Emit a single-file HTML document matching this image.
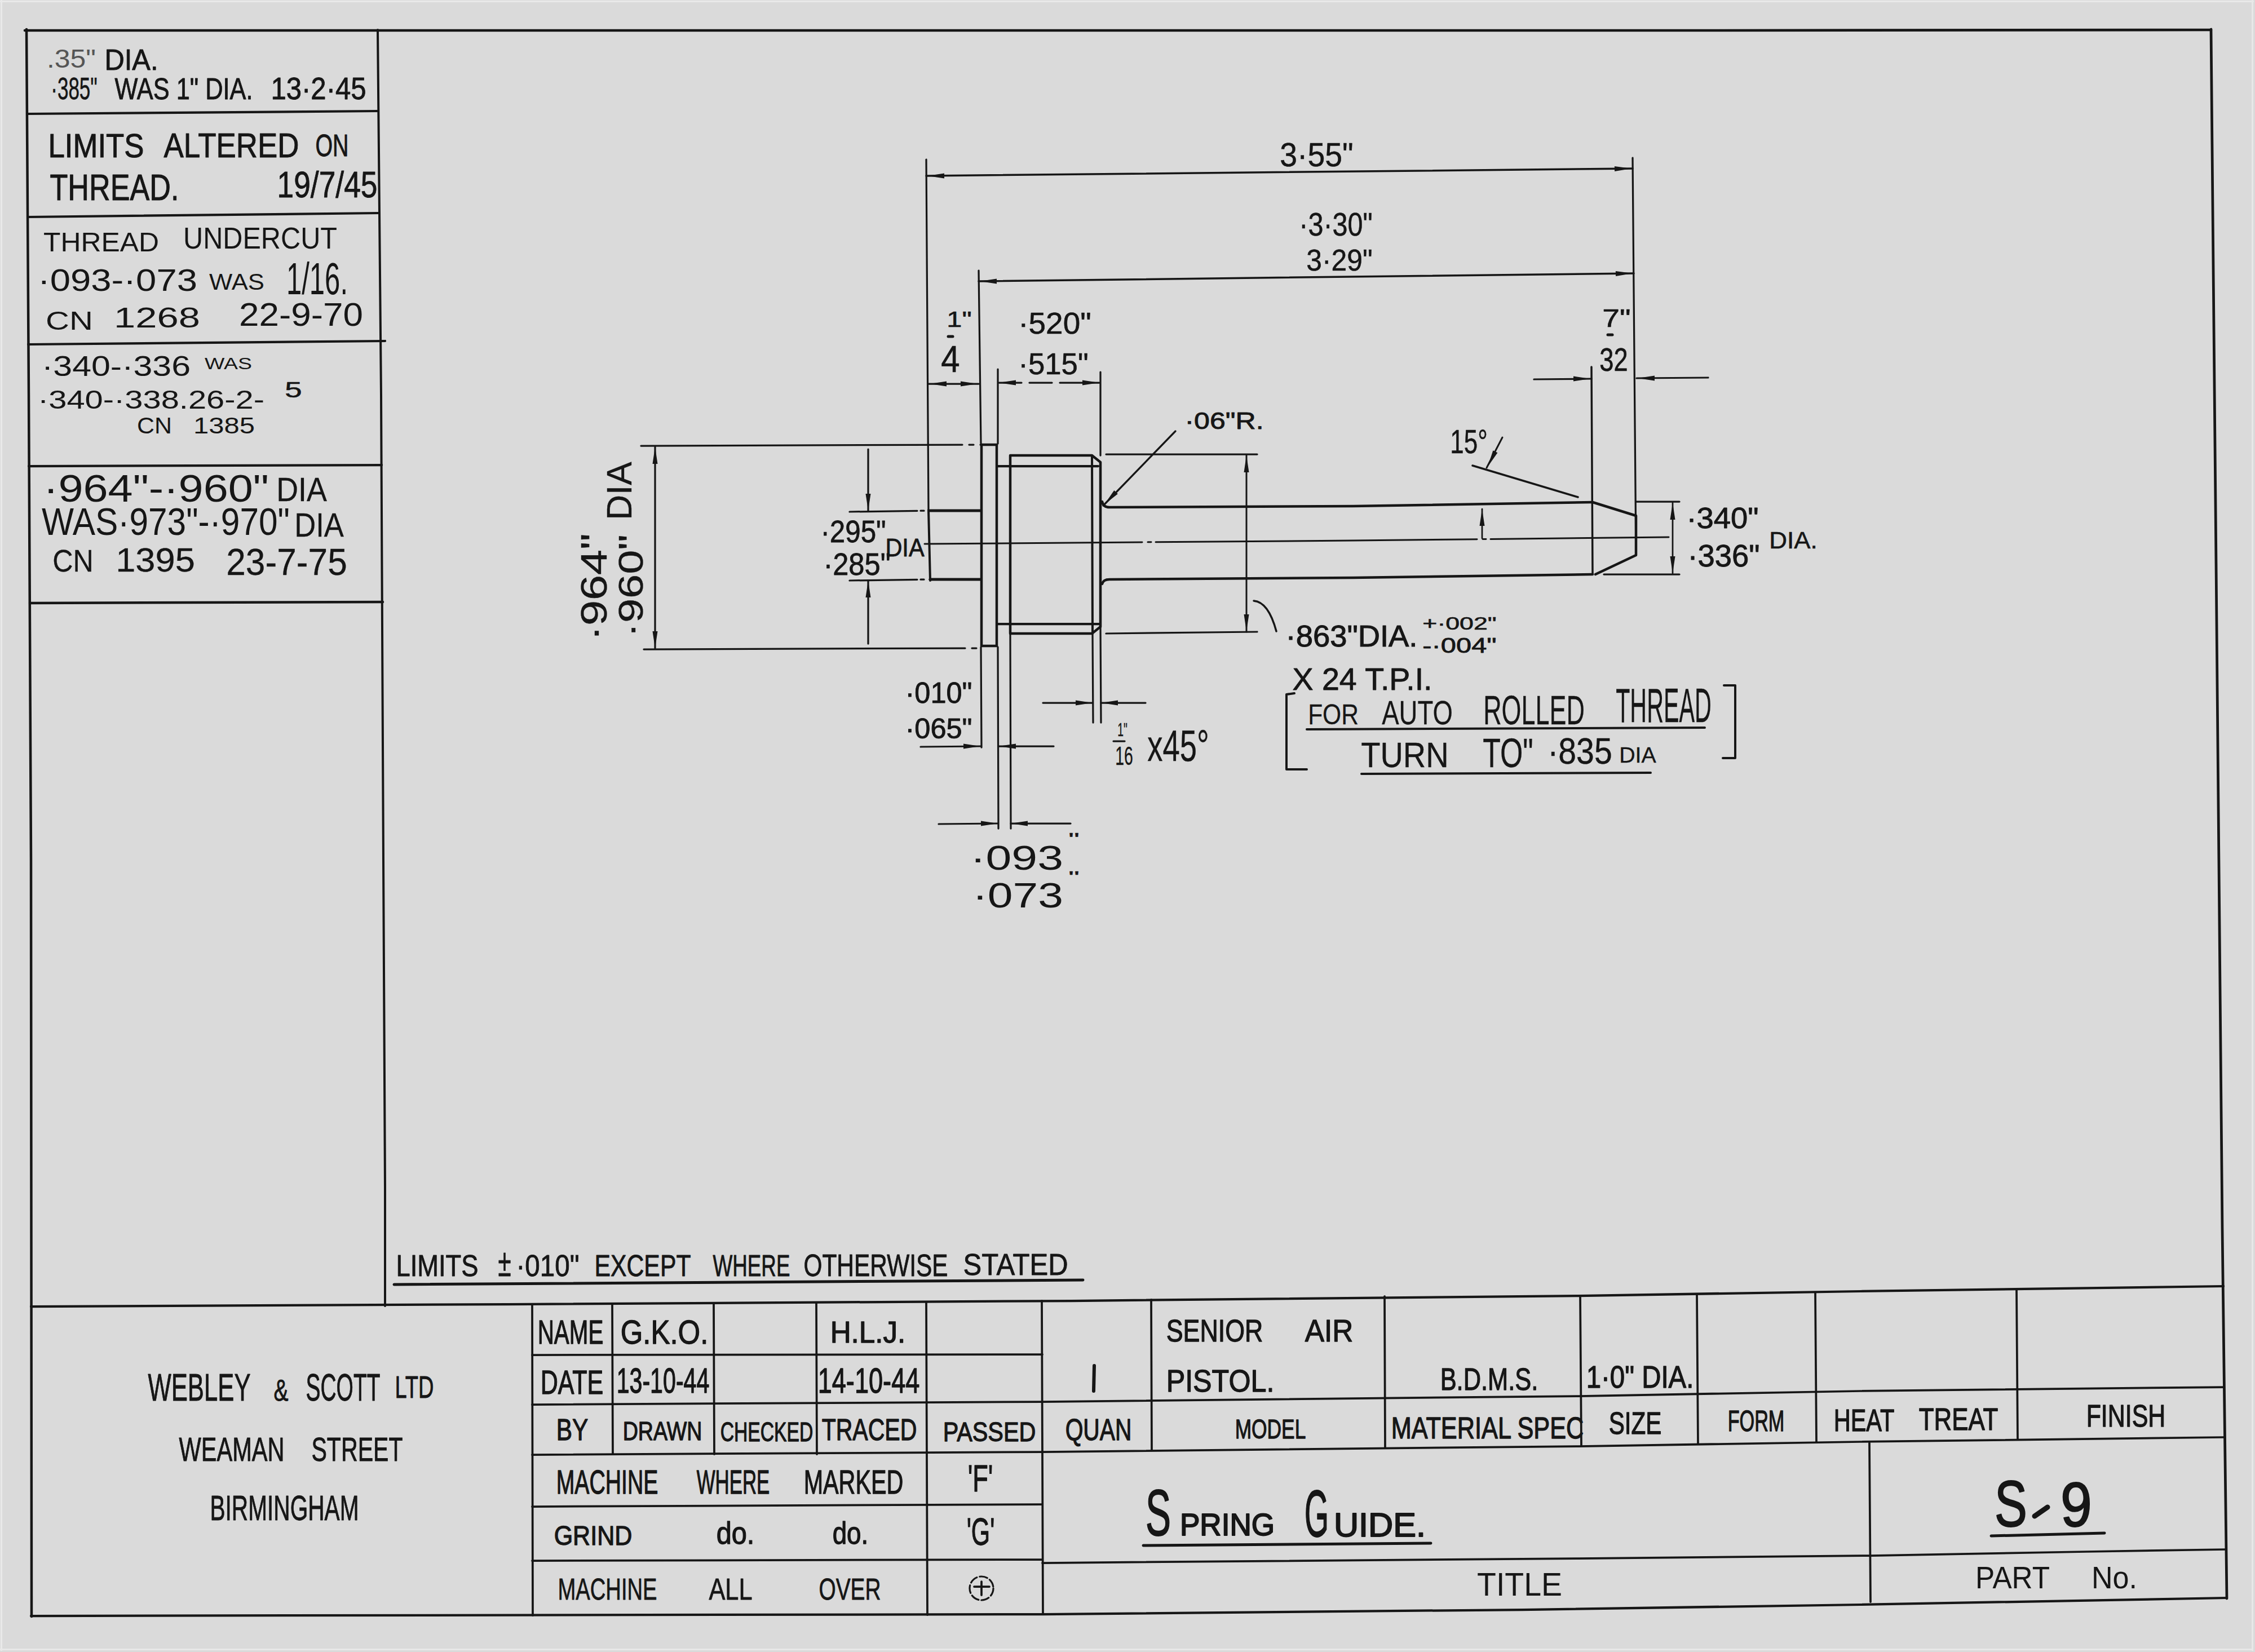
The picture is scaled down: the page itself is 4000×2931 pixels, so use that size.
<!DOCTYPE html>
<html><head><meta charset="utf-8"><title>Spring Guide S-9</title>
<style>
html,body{margin:0;padding:0;background:#dadada;}
body{width:4000px;height:2931px;overflow:hidden;}
svg{display:block;}
text{font-family:"Liberation Sans",sans-serif;fill:#161616;}
</style></head>
<body>
<svg width="4000" height="2931" viewBox="0 0 4000 2931">
<rect x="0" y="0" width="4000" height="2931" fill="#dadada"/>
<rect x="0" y="1" width="3998" height="3" fill="#e9e9e9"/>
<rect x="1" y="0" width="3" height="2929" fill="#e9e9e9"/>
<rect x="3994" y="0" width="3" height="2929" fill="#e8e8e8"/>
<rect x="0" y="2925" width="3997" height="3" fill="#e8e8e8"/>
<g fill="none" stroke="#161616" stroke-linecap="round" stroke-linejoin="round">
<path d="M44 54 L1500 54 L3000 54 L3922 53" stroke-width="4.6"/>
<path d="M47 52 L51 700 L55 1526 L56 2868" stroke-width="4.5"/>
<path d="M3922 52 L3931 1000 L3942 2180 L3950 2836" stroke-width="4.75"/>
<path d="M55 2867 L1850 2864 L2700 2856 L3300 2847 L3950 2835" stroke-width="4.25"/>
<path d="M670 53 L676 700 L680 1526 L683 2105 L683 2317" stroke-width="4"/>
<path d="M48 202 L670 197" stroke-width="4.25"/>
<path d="M49 385 L672 378" stroke-width="4.25"/>
<path d="M50 611 L683 605" stroke-width="4.25"/>
<path d="M51 827 L677 825" stroke-width="4.25"/>
<path d="M53 1070 L679 1068" stroke-width="4.5"/>
<path d="M55 2318 L900 2314 L1900 2308 L2800 2299 L3300 2291 L3944 2282" stroke-width="4.25"/>
<path d="M699 2279 L1921 2271" stroke-width="5"/>
<path d="M944 2315 L945 2866" stroke-width="3.75"/>
<path d="M1086 2314 L1087 2580" stroke-width="3.75"/>
<path d="M1266 2313 L1267 2580" stroke-width="3.75"/>
<path d="M1448 2312 L1449 2580" stroke-width="3.75"/>
<path d="M1643 2311 L1645 2865" stroke-width="3.75"/>
<path d="M1848 2308 L1850 2864" stroke-width="3.75"/>
<path d="M2042 2306 L2043 2572" stroke-width="3.75"/>
<path d="M2456 2300 L2457 2568" stroke-width="3.75"/>
<path d="M2803 2299 L2805 2564" stroke-width="3.75"/>
<path d="M3010 2296 L3012 2561" stroke-width="3.75"/>
<path d="M3220 2293 L3222 2558" stroke-width="3.75"/>
<path d="M3577 2287 L3579 2553" stroke-width="3.75"/>
<path d="M3316 2560 L3318 2842" stroke-width="3.75"/>
<path d="M944 2404 L1849 2403" stroke-width="3.75"/>
<path d="M944 2492 L1849 2487 L2800 2477 L3300 2468 L3944 2461" stroke-width="3.75"/>
<path d="M944 2581 L1849 2576 L2800 2566 L3300 2558 L3944 2550" stroke-width="3.75"/>
<path d="M944 2673 L1849 2669" stroke-width="3.75"/>
<path d="M944 2769 L1849 2767" stroke-width="3.75"/>
<path d="M1849 2773 L2800 2765 L3318 2760 L3700 2753 L3948 2749" stroke-width="3.75"/>
<path d="M2028 2742 L2538 2738" stroke-width="5"/>
<path d="M3532 2725 L3733 2720" stroke-width="5"/>
<path d="M1643 283 L1647 905" stroke-width="3.25"/>
<path d="M1647 905 L1650 1030" stroke-width="4"/>
<path d="M1643 312 L2896 299" stroke-width="3.5"/>
<path d="M1645.0 312.0 L1675.0 307.5 L1675.0 316.5 Z" fill="#161616" stroke="none"/>
<path d="M2894.0 299.0 L2864.1 304.1 L2863.9 295.1 Z" fill="#161616" stroke="none"/>
<path d="M2896 280 L2902 985" stroke-width="3.25"/>
<path d="M1736 480 L1740 787" stroke-width="3.25"/>
<path d="M1736 499 L2898 485" stroke-width="3.5"/>
<path d="M1738.0 499.0 L1768.0 494.5 L1768.0 503.5 Z" fill="#161616" stroke="none"/>
<path d="M2896.0 485.0 L2866.1 490.1 L2865.9 481.1 Z" fill="#161616" stroke="none"/>
<path d="M2823 651 L2825 1019" stroke-width="3.5"/>
<path d="M2721 673 L2823 672" stroke-width="3.25"/>
<path d="M2821.0 672.0 L2791.0 676.5 L2791.0 667.5 Z" fill="#161616" stroke="none"/>
<path d="M2903 671 L3030 670" stroke-width="3.25"/>
<path d="M2905.0 671.0 L2935.0 666.5 L2935.0 675.5 Z" fill="#161616" stroke="none"/>
<path d="M1647 681 L1736 681" stroke-width="3.25"/>
<path d="M1649.0 681.0 L1679.0 676.5 L1679.0 685.5 Z" fill="#161616" stroke="none"/>
<path d="M1734.0 681.0 L1704.0 685.5 L1704.0 676.5 Z" fill="#161616" stroke="none"/>
<path d="M1770 655 L1770 787" stroke-width="3.25"/>
<path d="M1952 660 L1952 808" stroke-width="3.25"/>
<path d="M1772 679 L1950 679" stroke-width="3.25" stroke-dasharray="40 14"/>
<path d="M1772.0 679.0 L1802.0 674.5 L1802.0 683.5 Z" fill="#161616" stroke="none"/>
<path d="M1950.0 679.0 L1920.0 683.5 L1920.0 674.5 Z" fill="#161616" stroke="none"/>
<path d="M1650 906 L1740 906 M1650 1028 L1740 1028" stroke-width="5"/>
<path d="M1741 789 L1768 789 L1768 1146 L1741 1146 Z" stroke-width="4.5"/>
<path d="M1769 827 L1948 827 M1769 1107 L1950 1107" stroke-width="4.25"/>
<path d="M1792 808 L1937 808 L1952 820 L1952 1112 L1937 1124 L1792 1124 Z" stroke-width="4.5"/>
<path d="M1937 808 L1938 1124" stroke-width="4"/>
<path d="M1955 890 Q1957 900 1968 900 L2400 898 L2825 891" stroke-width="4.5"/>
<path d="M1955 1036 Q1957 1028 1968 1028 L2400 1025 L2825 1019" stroke-width="4.5"/>
<path d="M2825 891 L2902 915 L2902 985 L2830 1019" stroke-width="4.5"/>
<path d="M1640 965 L2400 959 L2960 953" stroke-width="3" stroke-dasharray="386 10 6 8 570 10 6 8 400"/>
<path d="M1137 791 L1740 789" stroke-width="3.25" stroke-dasharray="570 12 8 12"/>
<path d="M1142 1152 L1740 1150" stroke-width="3.25" stroke-dasharray="570 12 8 12"/>
<path d="M1162 793 L1162 1150" stroke-width="3.25"/>
<path d="M1162.0 793.0 L1166.5 823.0 L1157.5 823.0 Z" fill="#161616" stroke="none"/>
<path d="M1162.0 1150.0 L1157.5 1120.0 L1166.5 1120.0 Z" fill="#161616" stroke="none"/>
<path d="M1507 908 L1650 906" stroke-width="3.25" stroke-dasharray="120 6 6 10"/>
<path d="M1507 1030 L1650 1028" stroke-width="3.25" stroke-dasharray="120 6 6 10"/>
<path d="M1540 797 L1540 906" stroke-width="3.25"/>
<path d="M1540.0 906.0 L1535.5 876.0 L1544.5 876.0 Z" fill="#161616" stroke="none"/>
<path d="M1540 1030 L1540 1142" stroke-width="3.25"/>
<path d="M1540.0 1030.0 L1544.5 1060.0 L1535.5 1060.0 Z" fill="#161616" stroke="none"/>
<path d="M1962 806 L2230 806" stroke-width="3.25"/>
<path d="M1962 1124 L2230 1121" stroke-width="3.25"/>
<path d="M2211 808 L2211 1121" stroke-width="3"/>
<path d="M2211.0 808.0 L2215.5 838.0 L2206.5 838.0 Z" fill="#161616" stroke="none"/>
<path d="M2211.0 1120.0 L2206.5 1090.0 L2215.5 1090.0 Z" fill="#161616" stroke="none"/>
<path d="M2224 1066 Q2250 1068 2264 1120" stroke-width="3.5" fill="none"/>
<path d="M2902 890 L2979 890" stroke-width="3.25"/>
<path d="M2845 1019 L2979 1019" stroke-width="3.25"/>
<path d="M2967 892 L2967 1017" stroke-width="2.75"/>
<path d="M2967.0 892.0 L2971.5 922.0 L2962.5 922.0 Z" fill="#161616" stroke="none"/>
<path d="M2967.0 1017.0 L2962.5 987.0 L2971.5 987.0 Z" fill="#161616" stroke="none"/>
<path d="M2612 826 L2799 882" stroke-width="3.5"/>
<path d="M2665 776 L2637 830" stroke-width="3"/>
<path d="M2639.0 828.0 L2648.4 799.2 L2656.4 803.2 Z" fill="#161616" stroke="none"/>
<path d="M2629 955 L2629 903" stroke-width="2.75"/>
<path d="M2629.0 903.0 L2633.5 933.0 L2624.5 933.0 Z" fill="#161616" stroke="none"/>
<path d="M2085 765 L1957 897" stroke-width="3.25"/>
<path d="M1959.0 895.0 L1976.3 870.1 L1982.8 876.2 Z" fill="#161616" stroke="none"/>
<path d="M1740 1148 L1741 1326" stroke-width="3.25"/>
<path d="M1770 1148 L1771 1470" stroke-width="3.25"/>
<path d="M1792 1124 L1793 1470" stroke-width="3.25"/>
<path d="M1633 1325 L1739 1324" stroke-width="3.25"/>
<path d="M1739.0 1324.0 L1709.0 1328.5 L1709.0 1319.5 Z" fill="#161616" stroke="none"/>
<path d="M1772 1324 L1869 1324" stroke-width="3.25"/>
<path d="M1772.0 1324.0 L1802.0 1319.5 L1802.0 1328.5 Z" fill="#161616" stroke="none"/>
<path d="M1665 1462 L1770 1461" stroke-width="3.25"/>
<path d="M1770.0 1461.0 L1740.0 1465.5 L1740.0 1456.5 Z" fill="#161616" stroke="none"/>
<path d="M1793 1461 L1899 1461" stroke-width="3.25"/>
<path d="M1793.0 1461.0 L1823.0 1456.5 L1823.0 1465.5 Z" fill="#161616" stroke="none"/>
<path d="M1938 1124 L1939 1282" stroke-width="3.25"/>
<path d="M1952 1112 L1953 1282" stroke-width="3.25"/>
<path d="M1850 1247 L1938 1247" stroke-width="3.25"/>
<path d="M1938.0 1247.0 L1908.0 1251.5 L1908.0 1242.5 Z" fill="#161616" stroke="none"/>
<path d="M1953 1247 L2032 1247" stroke-width="3.25"/>
<path d="M1953.0 1247.0 L1983.0 1242.5 L1983.0 1251.5 Z" fill="#161616" stroke="none"/>
<path d="M1975 1315 L1995 1315" stroke-width="3.25"/>
<path d="M2296 1230 L2282 1232 L2282 1365 L2318 1365" stroke-width="4" fill="none"/>
<path d="M3058 1216 L3078 1216 L3078 1345 L3056 1345" stroke-width="4" fill="none"/>
<path d="M2318 1294 L3024 1291" stroke-width="4"/>
<path d="M2415 1373 L2928 1371" stroke-width="4"/>
<path d="M1682 597 L1690 597" stroke-width="5"/>
<path d="M2852 594 L2860 594" stroke-width="5"/>
<text x="83.0" y="120.0" font-size="46.0" font-weight="400" textLength="87.0" lengthAdjust="spacingAndGlyphs" stroke="none" style="fill:#555">.35"</text>
<text x="185.45" y="123.55" font-size="51.9" font-weight="400" textLength="95.10000000000002" lengthAdjust="spacingAndGlyphs" stroke="#161616" stroke-width="0.9">DIA.</text>
<text x="90.3" y="175.7" font-size="55.3" font-weight="400" textLength="82.39999999999999" lengthAdjust="spacingAndGlyphs" stroke="#161616" stroke-width="0.6">·385"</text>
<text x="203.45" y="175.55" font-size="53.4" font-weight="400" textLength="245.10000000000002" lengthAdjust="spacingAndGlyphs" stroke="#161616" stroke-width="0.9">WAS 1" DIA.</text>
<text x="480.45" y="175.55" font-size="54.8" font-weight="400" textLength="169.09999999999997" lengthAdjust="spacingAndGlyphs" stroke="#161616" stroke-width="0.9">13·2·45</text>
<text x="85.5" y="278.5" font-size="59.0" font-weight="400" textLength="170.0" lengthAdjust="spacingAndGlyphs" stroke="#161616" stroke-width="1.0">LIMITS</text>
<text x="290.5" y="278.5" font-size="61.9" font-weight="400" textLength="240.0" lengthAdjust="spacingAndGlyphs" stroke="#161616" stroke-width="1.0">ALTERED</text>
<text x="559.5" y="276.5" font-size="56.1" font-weight="400" textLength="59.0" lengthAdjust="spacingAndGlyphs" stroke="#161616" stroke-width="1.0">ON</text>
<text x="88.5" y="354.5" font-size="64.7" font-weight="400" textLength="229.0" lengthAdjust="spacingAndGlyphs" stroke="#161616" stroke-width="1.0">THREAD.</text>
<text x="491.45" y="349.55" font-size="64.9" font-weight="400" textLength="178.09999999999997" lengthAdjust="spacingAndGlyphs" stroke="#161616" stroke-width="0.9">19/7/45</text>
<text x="77.0" y="446.0" font-size="47.5" font-weight="400" textLength="205.0" lengthAdjust="spacingAndGlyphs" stroke="none">THREAD</text>
<text x="325.0" y="441.0" font-size="53.2" font-weight="400" textLength="273.0" lengthAdjust="spacingAndGlyphs" stroke="none">UNDERCUT</text>
<text x="67.0" y="516.0" font-size="56.1" font-weight="400" textLength="283.0" lengthAdjust="spacingAndGlyphs" stroke="none">·093-·073</text>
<text x="371.0" y="514.0" font-size="40.3" font-weight="400" textLength="98.0" lengthAdjust="spacingAndGlyphs" stroke="none">WAS</text>
<text x="508.0" y="522.0" font-size="80.6" font-weight="400" textLength="109.0" lengthAdjust="spacingAndGlyphs" stroke="none">1/16.</text>
<text x="81.0" y="585.0" font-size="46.0" font-weight="400" textLength="84.0" lengthAdjust="spacingAndGlyphs" stroke="none">CN</text>
<text x="202.0" y="581.0" font-size="50.4" font-weight="400" textLength="153.0" lengthAdjust="spacingAndGlyphs" stroke="none">1268</text>
<text x="424.0" y="578.0" font-size="57.6" font-weight="400" textLength="220.0" lengthAdjust="spacingAndGlyphs" stroke="none">22-9-70</text>
<text x="74.0" y="667.0" font-size="50.4" font-weight="400" textLength="264.0" lengthAdjust="spacingAndGlyphs" stroke="none">·340-·336</text>
<text x="363.0" y="655.0" font-size="30.2" font-weight="400" textLength="84.0" lengthAdjust="spacingAndGlyphs" stroke="none">WAS</text>
<text x="67.0" y="725.0" font-size="46.0" font-weight="400" textLength="402.0" lengthAdjust="spacingAndGlyphs" stroke="none">·340-·338.26-2-</text>
<text x="505.3" y="704.7" font-size="39.4" font-weight="400" textLength="30.400000000000034" lengthAdjust="spacingAndGlyphs" stroke="#161616" stroke-width="0.6">5</text>
<text x="243.0" y="769.0" font-size="40.3" font-weight="400" textLength="62.0" lengthAdjust="spacingAndGlyphs" stroke="none">CN</text>
<text x="343.0" y="769.0" font-size="40.3" font-weight="400" textLength="109.0" lengthAdjust="spacingAndGlyphs" stroke="none">1385</text>
<text x="77.0" y="890.0" font-size="67.6" font-weight="400" textLength="400.0" lengthAdjust="spacingAndGlyphs" stroke="none">·964"-·960"</text>
<text x="490.15" y="888.85" font-size="58.6" font-weight="400" textLength="89.70000000000005" lengthAdjust="spacingAndGlyphs" stroke="#161616" stroke-width="0.3">DIA</text>
<text x="74.0" y="949.0" font-size="67.6" font-weight="400" textLength="440.0" lengthAdjust="spacingAndGlyphs" stroke="none">WAS·973"-·970"</text>
<text x="522.15" y="951.85" font-size="58.6" font-weight="400" textLength="87.70000000000005" lengthAdjust="spacingAndGlyphs" stroke="#161616" stroke-width="0.3">DIA</text>
<text x="93.15" y="1013.85" font-size="55.7" font-weight="400" textLength="72.69999999999999" lengthAdjust="spacingAndGlyphs" stroke="#161616" stroke-width="0.3">CN</text>
<text x="205.15" y="1013.85" font-size="60.0" font-weight="400" textLength="140.70000000000002" lengthAdjust="spacingAndGlyphs" stroke="#161616" stroke-width="0.3">1395</text>
<text x="401.15" y="1019.85" font-size="67.2" font-weight="400" textLength="214.70000000000005" lengthAdjust="spacingAndGlyphs" stroke="#161616" stroke-width="0.3">23-7-75</text>
<text x="2270.26" y="294.74" font-size="59.7" font-weight="400" textLength="130.47999999999956" lengthAdjust="spacingAndGlyphs" stroke="#161616" stroke-width="0.52">3·55"</text>
<text x="2304.26" y="417.74" font-size="56.8" font-weight="400" textLength="130.47999999999956" lengthAdjust="spacingAndGlyphs" stroke="#161616" stroke-width="0.52">·3·30"</text>
<text x="2317.26" y="479.74" font-size="53.9" font-weight="400" textLength="117.47999999999956" lengthAdjust="spacingAndGlyphs" stroke="#161616" stroke-width="0.52">3·29"</text>
<text x="1679.325" y="579.675" font-size="39.4" font-weight="400" textLength="44.34999999999991" lengthAdjust="spacingAndGlyphs" stroke="#161616" stroke-width="0.65">1"</text>
<text x="1669.325" y="659.675" font-size="66.7" font-weight="400" textLength="33.34999999999991" lengthAdjust="spacingAndGlyphs" stroke="#161616" stroke-width="0.65">4</text>
<text x="1806.325" y="591.675" font-size="53.7" font-weight="400" textLength="129.3499999999999" lengthAdjust="spacingAndGlyphs" stroke="#161616" stroke-width="0.65">·520"</text>
<text x="1806.325" y="663.675" font-size="53.7" font-weight="400" textLength="124.34999999999991" lengthAdjust="spacingAndGlyphs" stroke="#161616" stroke-width="0.65">·515"</text>
<text x="2842.325" y="579.675" font-size="43.7" font-weight="400" textLength="50.350000000000364" lengthAdjust="spacingAndGlyphs" stroke="#161616" stroke-width="0.65">7"</text>
<text x="2837.325" y="657.675" font-size="58.1" font-weight="400" textLength="50.350000000000364" lengthAdjust="spacingAndGlyphs" stroke="#161616" stroke-width="0.65">32</text>
<text x="2101.455" y="760.545" font-size="43.3" font-weight="400" textLength="140.09000000000015" lengthAdjust="spacingAndGlyphs" stroke="#161616" stroke-width="0.91">·06"R.</text>
<text x="2572.26" y="803.74" font-size="59.7" font-weight="400" textLength="66.47999999999956" lengthAdjust="spacingAndGlyphs" stroke="#161616" stroke-width="0.52">15°</text>
<text x="2991.455" y="936.545" font-size="51.9" font-weight="400" textLength="128.09000000000015" lengthAdjust="spacingAndGlyphs" stroke="#161616" stroke-width="0.91">·340"</text>
<text x="2993.455" y="1004.545" font-size="56.2" font-weight="400" textLength="128.09000000000015" lengthAdjust="spacingAndGlyphs" stroke="#161616" stroke-width="0.91">·336"</text>
<text x="3138.325" y="972.675" font-size="42.2" font-weight="400" textLength="85.35000000000036" lengthAdjust="spacingAndGlyphs" stroke="#161616" stroke-width="0.65">DIA.</text>
<text x="1455.39" y="961.61" font-size="56.4" font-weight="400" textLength="116.2199999999998" lengthAdjust="spacingAndGlyphs" stroke="#161616" stroke-width="0.78">·295"</text>
<text x="1570.39" y="986.61" font-size="44.9" font-weight="400" textLength="69.2199999999998" lengthAdjust="spacingAndGlyphs" stroke="#161616" stroke-width="0.78">DIA</text>
<text x="1460.39" y="1019.61" font-size="56.4" font-weight="400" textLength="119.2199999999998" lengthAdjust="spacingAndGlyphs" stroke="#161616" stroke-width="0.78">·285"</text>
<g transform="translate(1030 1137) rotate(-90)">
<text x="0.195" y="45.805" font-size="65.6" font-weight="400" textLength="190.61" lengthAdjust="spacingAndGlyphs" stroke="#161616" stroke-width="0.39">·964"</text>
</g>
<g transform="translate(1097 1131) rotate(-90)">
<text x="0.195" y="42.805" font-size="61.3" font-weight="400" textLength="182.61" lengthAdjust="spacingAndGlyphs" stroke="#161616" stroke-width="0.39">·960"</text>
</g>
<g transform="translate(1076 923) rotate(-90)">
<text x="0.195" y="43.805" font-size="62.7" font-weight="400" textLength="103.61000000000001" lengthAdjust="spacingAndGlyphs" stroke="#161616" stroke-width="0.39">DIA</text>
</g>
<text x="2280.52" y="1147.48" font-size="53.2" font-weight="400" textLength="233.96000000000004" lengthAdjust="spacingAndGlyphs" stroke="#161616" stroke-width="1.04">·863"DIA.</text>
<text x="2523.325" y="1116.675" font-size="32.2" font-weight="400" textLength="131.35000000000036" lengthAdjust="spacingAndGlyphs" stroke="#161616" stroke-width="0.65">+·002"</text>
<text x="2523.39" y="1157.61" font-size="36.3" font-weight="400" textLength="131.22000000000025" lengthAdjust="spacingAndGlyphs" stroke="#161616" stroke-width="0.78">-·004"</text>
<text x="2292.455" y="1223.545" font-size="56.2" font-weight="400" textLength="248.09000000000015" lengthAdjust="spacingAndGlyphs" stroke="#161616" stroke-width="0.91">X 24 T.P.I.</text>
<text x="2320.13" y="1284.87" font-size="50.0" font-weight="400" textLength="89.73999999999978" lengthAdjust="spacingAndGlyphs" stroke="#161616" stroke-width="0.26">FOR</text>
<text x="2451.13" y="1284.87" font-size="58.6" font-weight="400" textLength="125.73999999999978" lengthAdjust="spacingAndGlyphs" stroke="#161616" stroke-width="0.26">AUTO</text>
<text x="2631.13" y="1284.87" font-size="73.0" font-weight="400" textLength="179.73999999999978" lengthAdjust="spacingAndGlyphs" stroke="#161616" stroke-width="0.26">ROLLED</text>
<text x="2866.13" y="1280.87" font-size="84.5" font-weight="400" textLength="169.73999999999978" lengthAdjust="spacingAndGlyphs" stroke="#161616" stroke-width="0.26">THREAD</text>
<text x="2414.195" y="1360.805" font-size="62.7" font-weight="400" textLength="155.60999999999967" lengthAdjust="spacingAndGlyphs" stroke="#161616" stroke-width="0.39">TURN</text>
<text x="2630.195" y="1360.805" font-size="72.8" font-weight="400" textLength="89.60999999999967" lengthAdjust="spacingAndGlyphs" stroke="#161616" stroke-width="0.39">TO"</text>
<text x="2745.195" y="1354.805" font-size="64.2" font-weight="400" textLength="114.60999999999967" lengthAdjust="spacingAndGlyphs" stroke="#161616" stroke-width="0.39">·835</text>
<text x="2872.195" y="1352.805" font-size="39.7" font-weight="400" textLength="65.60999999999967" lengthAdjust="spacingAndGlyphs" stroke="#161616" stroke-width="0.39">DIA</text>
<text x="1605.455" y="1246.545" font-size="51.9" font-weight="400" textLength="119.09000000000015" lengthAdjust="spacingAndGlyphs" stroke="#161616" stroke-width="0.91">·010"</text>
<text x="1605.455" y="1309.545" font-size="49.1" font-weight="400" textLength="119.09000000000015" lengthAdjust="spacingAndGlyphs" stroke="#161616" stroke-width="0.91">·065"</text>
<text x="1982.195" y="1305.805" font-size="34.0" font-weight="400" textLength="17.610000000000127" lengthAdjust="spacingAndGlyphs" stroke="#161616" stroke-width="0.39">1"</text>
<text x="1978.195" y="1356.805" font-size="45.5" font-weight="400" textLength="31.610000000000127" lengthAdjust="spacingAndGlyphs" stroke="#161616" stroke-width="0.39">16</text>
<text x="2035.195" y="1349.805" font-size="78.6" font-weight="400" textLength="109.6099999999999" lengthAdjust="spacingAndGlyphs" stroke="#161616" stroke-width="0.39">x45°</text>
<text x="1721.0" y="1543.0" font-size="61.9" font-weight="400" textLength="165.0" lengthAdjust="spacingAndGlyphs" stroke="none">·093</text>
<text x="1725.0" y="1610.0" font-size="63.3" font-weight="400" textLength="161.0" lengthAdjust="spacingAndGlyphs" stroke="none">·073</text>
<text x="1895.195" y="1499.805" font-size="31.1" font-weight="400" textLength="19.610000000000127" lengthAdjust="spacingAndGlyphs" stroke="#161616" stroke-width="0.39">"</text>
<text x="1895.195" y="1564.805" font-size="28.2" font-weight="400" textLength="19.610000000000127" lengthAdjust="spacingAndGlyphs" stroke="#161616" stroke-width="0.39">"</text>
<text x="702.45" y="2263.55" font-size="53.4" font-weight="400" textLength="146.0999999999999" lengthAdjust="spacingAndGlyphs" stroke="#161616" stroke-width="0.9">LIMITS</text>
<text x="883.45" y="2263.55" font-size="69.2" font-weight="400" textLength="23.09999999999991" lengthAdjust="spacingAndGlyphs" stroke="#161616" stroke-width="0.9">±</text>
<text x="915.45" y="2263.55" font-size="53.4" font-weight="400" textLength="112.09999999999991" lengthAdjust="spacingAndGlyphs" stroke="#161616" stroke-width="0.9">·010"</text>
<text x="1054.45" y="2263.55" font-size="53.4" font-weight="400" textLength="171.0999999999999" lengthAdjust="spacingAndGlyphs" stroke="#161616" stroke-width="0.9">EXCEPT</text>
<text x="1264.45" y="2263.55" font-size="53.4" font-weight="400" textLength="137.0999999999999" lengthAdjust="spacingAndGlyphs" stroke="#161616" stroke-width="0.9">WHERE</text>
<text x="1425.45" y="2263.55" font-size="56.3" font-weight="400" textLength="256.0999999999999" lengthAdjust="spacingAndGlyphs" stroke="#161616" stroke-width="0.9">OTHERWISE</text>
<text x="1708.45" y="2261.55" font-size="53.4" font-weight="400" textLength="186.0999999999999" lengthAdjust="spacingAndGlyphs" stroke="#161616" stroke-width="0.9">STATED</text>
<text x="262.455" y="2484.545" font-size="67.8" font-weight="400" textLength="182.09000000000003" lengthAdjust="spacingAndGlyphs" stroke="#161616" stroke-width="0.91">WEBLEY</text>
<text x="485.455" y="2484.545" font-size="53.4" font-weight="400" textLength="26.090000000000032" lengthAdjust="spacingAndGlyphs" stroke="#161616" stroke-width="0.91">&amp;</text>
<text x="542.455" y="2484.545" font-size="67.8" font-weight="400" textLength="132.08999999999992" lengthAdjust="spacingAndGlyphs" stroke="#161616" stroke-width="0.91">SCOTT</text>
<text x="700.455" y="2479.545" font-size="56.2" font-weight="400" textLength="69.08999999999992" lengthAdjust="spacingAndGlyphs" stroke="#161616" stroke-width="0.91">LTD</text>
<text x="317.455" y="2591.545" font-size="59.1" font-weight="400" textLength="187.09000000000003" lengthAdjust="spacingAndGlyphs" stroke="#161616" stroke-width="0.91">WEAMAN</text>
<text x="552.455" y="2591.545" font-size="59.1" font-weight="400" textLength="162.08999999999992" lengthAdjust="spacingAndGlyphs" stroke="#161616" stroke-width="0.91">STREET</text>
<text x="372.455" y="2696.545" font-size="63.4" font-weight="400" textLength="264.09" lengthAdjust="spacingAndGlyphs" stroke="#161616" stroke-width="0.91">BIRMINGHAM</text>
<text x="953.65" y="2384.35" font-size="58.6" font-weight="400" textLength="116.69999999999993" lengthAdjust="spacingAndGlyphs" stroke="#161616" stroke-width="1.3">NAME</text>
<text x="1100.65" y="2384.35" font-size="58.6" font-weight="400" textLength="155.69999999999982" lengthAdjust="spacingAndGlyphs" stroke="#161616" stroke-width="1.3">G.K.O.</text>
<text x="1472.65" y="2382.35" font-size="52.8" font-weight="400" textLength="133.69999999999982" lengthAdjust="spacingAndGlyphs" stroke="#161616" stroke-width="1.3">H.L.J.</text>
<text x="958.65" y="2473.35" font-size="58.6" font-weight="400" textLength="111.69999999999993" lengthAdjust="spacingAndGlyphs" stroke="#161616" stroke-width="1.3">DATE</text>
<text x="1093.65" y="2471.35" font-size="62.9" font-weight="400" textLength="164.69999999999982" lengthAdjust="spacingAndGlyphs" stroke="#161616" stroke-width="1.3">13-10-44</text>
<text x="1450.65" y="2471.35" font-size="62.9" font-weight="400" textLength="180.69999999999982" lengthAdjust="spacingAndGlyphs" stroke="#161616" stroke-width="1.3">14-10-44</text>
<text x="986.65" y="2555.35" font-size="52.8" font-weight="400" textLength="56.69999999999993" lengthAdjust="spacingAndGlyphs" stroke="#161616" stroke-width="1.3">BY</text>
<text x="1104.65" y="2555.35" font-size="45.6" font-weight="400" textLength="140.69999999999982" lengthAdjust="spacingAndGlyphs" stroke="#161616" stroke-width="1.3">DRAWN</text>
<text x="1277.65" y="2557.35" font-size="48.5" font-weight="400" textLength="164.69999999999982" lengthAdjust="spacingAndGlyphs" stroke="#161616" stroke-width="1.3">CHECKED</text>
<text x="1457.65" y="2555.35" font-size="52.8" font-weight="400" textLength="168.69999999999982" lengthAdjust="spacingAndGlyphs" stroke="#161616" stroke-width="1.3">TRACED</text>
<text x="1672.65" y="2557.35" font-size="48.5" font-weight="400" textLength="164.69999999999982" lengthAdjust="spacingAndGlyphs" stroke="#161616" stroke-width="1.3">PASSED</text>
<text x="986.65" y="2650.35" font-size="58.6" font-weight="400" textLength="180.69999999999993" lengthAdjust="spacingAndGlyphs" stroke="#161616" stroke-width="1.3">MACHINE</text>
<text x="1235.65" y="2650.35" font-size="58.6" font-weight="400" textLength="129.69999999999982" lengthAdjust="spacingAndGlyphs" stroke="#161616" stroke-width="1.3">WHERE</text>
<text x="1425.65" y="2650.35" font-size="58.6" font-weight="400" textLength="176.69999999999982" lengthAdjust="spacingAndGlyphs" stroke="#161616" stroke-width="1.3">MARKED</text>
<text x="1716.65" y="2646.35" font-size="65.8" font-weight="400" textLength="44.69999999999982" lengthAdjust="spacingAndGlyphs" stroke="#161616" stroke-width="1.3">'F'</text>
<text x="982.65" y="2741.35" font-size="48.5" font-weight="400" textLength="138.69999999999993" lengthAdjust="spacingAndGlyphs" stroke="#161616" stroke-width="1.3">GRIND</text>
<text x="1270.65" y="2739.35" font-size="55.0" font-weight="400" textLength="67.69999999999982" lengthAdjust="spacingAndGlyphs" stroke="#161616" stroke-width="1.3">do.</text>
<text x="1476.65" y="2739.35" font-size="55.0" font-weight="400" textLength="63.69999999999982" lengthAdjust="spacingAndGlyphs" stroke="#161616" stroke-width="1.3">do.</text>
<text x="1714.65" y="2741.35" font-size="68.6" font-weight="400" textLength="49.69999999999982" lengthAdjust="spacingAndGlyphs" stroke="#161616" stroke-width="1.3">'G'</text>
<text x="989.39" y="2837.61" font-size="53.6" font-weight="400" textLength="176.2199999999999" lengthAdjust="spacingAndGlyphs" stroke="#161616" stroke-width="0.78">MACHINE</text>
<text x="1257.39" y="2837.61" font-size="53.6" font-weight="400" textLength="77.2199999999998" lengthAdjust="spacingAndGlyphs" stroke="#161616" stroke-width="0.78">ALL</text>
<text x="1452.39" y="2837.61" font-size="53.6" font-weight="400" textLength="110.2199999999998" lengthAdjust="spacingAndGlyphs" stroke="#161616" stroke-width="0.78">OVER</text>
<circle cx="1741" cy="2818" r="21" fill="none" stroke="#161616" stroke-width="3.2" stroke-dasharray="14 5"/>
<path d="M1728 2815 L1755 2815 M1741 2806 L1741 2830" stroke-width="3.75"/>
<path d="M1941 2423 L1940 2468" stroke-width="6"/>
<text x="2068.65" y="2380.35" font-size="55.7" font-weight="400" textLength="171.69999999999982" lengthAdjust="spacingAndGlyphs" stroke="#161616" stroke-width="1.3">SENIOR</text>
<text x="2314.65" y="2380.35" font-size="55.7" font-weight="400" textLength="85.69999999999982" lengthAdjust="spacingAndGlyphs" stroke="#161616" stroke-width="1.3">AIR</text>
<text x="2068.65" y="2469.35" font-size="55.7" font-weight="400" textLength="191.69999999999982" lengthAdjust="spacingAndGlyphs" stroke="#161616" stroke-width="1.3">PISTOL.</text>
<text x="1889.65" y="2555.35" font-size="52.8" font-weight="400" textLength="117.69999999999982" lengthAdjust="spacingAndGlyphs" stroke="#161616" stroke-width="1.3">QUAN</text>
<text x="2190.65" y="2552.35" font-size="48.5" font-weight="400" textLength="125.69999999999982" lengthAdjust="spacingAndGlyphs" stroke="#161616" stroke-width="1.3">MODEL</text>
<text x="2467.65" y="2552.35" font-size="52.8" font-weight="400" textLength="341.6999999999998" lengthAdjust="spacingAndGlyphs" stroke="#161616" stroke-width="1.3">MATERIAL SPEC</text>
<text x="2554.65" y="2466.35" font-size="55.7" font-weight="400" textLength="173.69999999999982" lengthAdjust="spacingAndGlyphs" stroke="#161616" stroke-width="1.3">B.D.M.S.</text>
<text x="2813.65" y="2462.35" font-size="55.7" font-weight="400" textLength="190.69999999999982" lengthAdjust="spacingAndGlyphs" stroke="#161616" stroke-width="1.3">1·0" DIA.</text>
<text x="2853.65" y="2544.35" font-size="55.7" font-weight="400" textLength="93.69999999999982" lengthAdjust="spacingAndGlyphs" stroke="#161616" stroke-width="1.3">SIZE</text>
<text x="3064.65" y="2539.35" font-size="51.4" font-weight="400" textLength="100.69999999999982" lengthAdjust="spacingAndGlyphs" stroke="#161616" stroke-width="1.3">FORM</text>
<text x="3252.65" y="2539.35" font-size="55.7" font-weight="400" textLength="107.69999999999982" lengthAdjust="spacingAndGlyphs" stroke="#161616" stroke-width="1.3">HEAT</text>
<text x="3403.65" y="2537.35" font-size="55.7" font-weight="400" textLength="140.69999999999982" lengthAdjust="spacingAndGlyphs" stroke="#161616" stroke-width="1.3">TREAT</text>
<text x="3700.65" y="2531.35" font-size="55.7" font-weight="400" textLength="140.69999999999982" lengthAdjust="spacingAndGlyphs" stroke="#161616" stroke-width="1.3">FINISH</text>
<text x="2031.975" y="2724.025" font-size="115.2" font-weight="400" textLength="45.05000000000018" lengthAdjust="spacingAndGlyphs" stroke="#161616" stroke-width="1.95">S</text>
<text x="2092.975" y="2724.025" font-size="54.7" font-weight="400" textLength="168.05000000000018" lengthAdjust="spacingAndGlyphs" stroke="#161616" stroke-width="1.95">PRING</text>
<text x="2313.975" y="2726.025" font-size="116.6" font-weight="400" textLength="43.05000000000018" lengthAdjust="spacingAndGlyphs" stroke="#161616" stroke-width="1.95">G</text>
<text x="2365.975" y="2726.025" font-size="59.1" font-weight="400" textLength="163.05000000000018" lengthAdjust="spacingAndGlyphs" stroke="#161616" stroke-width="1.95">UIDE.</text>
<text x="2620.0" y="2831.0" font-size="57.6" font-weight="400" textLength="151.0" lengthAdjust="spacingAndGlyphs" stroke="none">TITLE</text>
<text x="3538.1" y="2707.9" font-size="114.8" font-weight="400" textLength="57.80000000000018" lengthAdjust="spacingAndGlyphs" stroke="#161616" stroke-width="2.2">S</text>
<path d="M3609 2690 L3632 2674" stroke-width="9"/>
<text x="3655.1" y="2707.9" font-size="110.5" font-weight="400" textLength="55.80000000000018" lengthAdjust="spacingAndGlyphs" stroke="#161616" stroke-width="2.2">9</text>
<text x="3504.0" y="2818.0" font-size="54.7" font-weight="400" textLength="132.0" lengthAdjust="spacingAndGlyphs" stroke="none">PART</text>
<text x="3710.0" y="2818.0" font-size="54.7" font-weight="400" textLength="81.0" lengthAdjust="spacingAndGlyphs" stroke="none">No.</text>
</g>
</svg>
</body></html>
